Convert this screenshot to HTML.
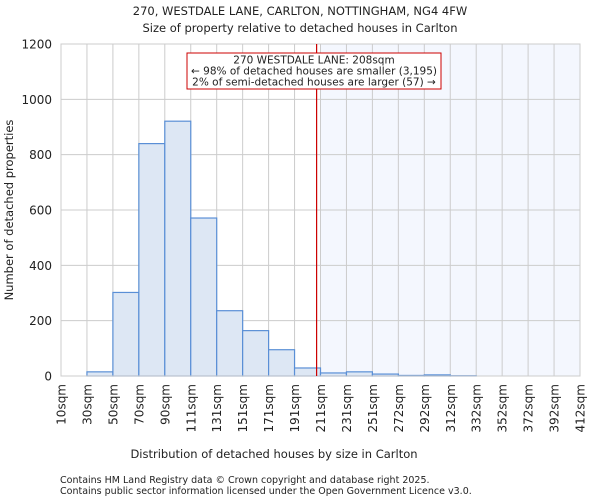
<!DOCTYPE html>
<html><head><meta charset="utf-8"><style>
body{margin:0;background:#fff;font-family:"DejaVu Sans","Liberation Sans",sans-serif;}
svg text{font-family:"DejaVu Sans","Liberation Sans",sans-serif;fill:#222;}
</style></head><body>
<svg id="chart" width="600" height="500" viewBox="0 0 600 500">
<text x="300" y="15" text-anchor="middle" font-size="11.5">270, WESTDALE LANE, CARLTON, NOTTINGHAM, NG4 4FW</text>
<text x="300" y="32" text-anchor="middle" font-size="11.5">Size of property relative to detached houses in Carlton</text>
<g id="plot"></g>
<text x="274" y="458" text-anchor="middle" font-size="11.5">Distribution of detached houses by size in Carlton</text>
<text transform="translate(13,210) rotate(-90)" text-anchor="middle" font-size="11.5">Number of detached properties</text>
<text x="60" y="483" font-size="9.5" fill="#444">Contains HM Land Registry data © Crown copyright and database right 2025.</text>
<text x="60" y="494" font-size="9.5" fill="#444">Contains public sector information licensed under the Open Government Licence v3.0.</text>
</svg>
<script>
const binEdges = [10,30,50,70,90,111,131,151,171,191,211,231,251,272,292,312,332,352,372,392,412];
const counts = [0,15,302,840,921,571,236,164,95,29,11,15,7,2,4,1,0,0,0,0];
const yTicks = [0,200,400,600,800,1000,1200];
const xTickLabels = ["10sqm","30sqm","50sqm","70sqm","90sqm","111sqm","131sqm","151sqm","171sqm","191sqm","211sqm","231sqm","251sqm","272sqm","292sqm","312sqm","332sqm","352sqm","372sqm","392sqm","412sqm"];
const propertySize = 208;
const shadeStart = 211;
const annotation = ["270 WESTDALE LANE: 208sqm","← 98% of detached houses are smaller (3,195)","2% of semi-detached houses are larger (57) →"];

const L=61,R=580,T=44,B=376,yMax=1200;
const nb=counts.length;
const xi=i=>L+(R-L)*i/nb;
const xv=v=>{for(let i=0;i<nb;i++){if(v<=binEdges[i+1]){return xi(i)+(v-binEdges[i])/(binEdges[i+1]-binEdges[i])*(R-L)/nb;}}return R;};
const y=v=>B-(B-T)*v/yMax;
const NS='http://www.w3.org/2000/svg';
const g=document.getElementById('plot');
function mk(t,a){const e=document.createElementNS(NS,t);for(const k in a)e.setAttribute(k,a[k]);g.appendChild(e);return e;}

const sh=mk('rect',{x:xv(shadeStart),y:T,width:R-xv(shadeStart),height:B-T,fill:'#f4f7fe'});


for(let i=0;i<=nb;i++){const l=mk('line',{x1:xi(i),x2:xi(i),y1:T,y2:B,stroke:'#ccc','stroke-width':1});

}
yTicks.forEach(t=>{const l=mk('line',{x1:L,x2:R,y1:y(t),y2:y(t),stroke:'#ccc','stroke-width':1});


const tx=mk('text',{x:L-9,y:y(t)+4.5,'text-anchor':'end','font-size':'12'});tx.textContent=t;

});
counts.forEach((c,i)=>{const r=mk('rect',{x:xi(i),y:y(c),width:(R-L)/nb,height:B-y(c),fill:'#dde7f4',stroke:'#5a8fd6','stroke-width':1.2});

});
xTickLabels.forEach((s,i)=>{const x=xi(i);const tx=mk('text',{transform:`translate(${x+4.5},384) rotate(-90)`,'text-anchor':'end','font-size':'12'});tx.textContent=s;

});
const ax=mk('rect',{x:L,y:T,width:R-L,height:B-T,fill:'none',stroke:'#ccc'});


const rl=mk('line',{x1:xv(propertySize),x2:xv(propertySize),y1:T,y2:B,stroke:'#cc0000','stroke-width':1.2});


const bx=mk('rect',{x:187,y:53,width:254,height:36,fill:'#fff',stroke:'#cc0000','stroke-width':1});


annotation.forEach((s,i)=>{const tx=mk('text',{x:314,y:63.5+i*11,'text-anchor':'middle','font-size':'10.5'});tx.textContent=s;

});
</script>
</body></html>
